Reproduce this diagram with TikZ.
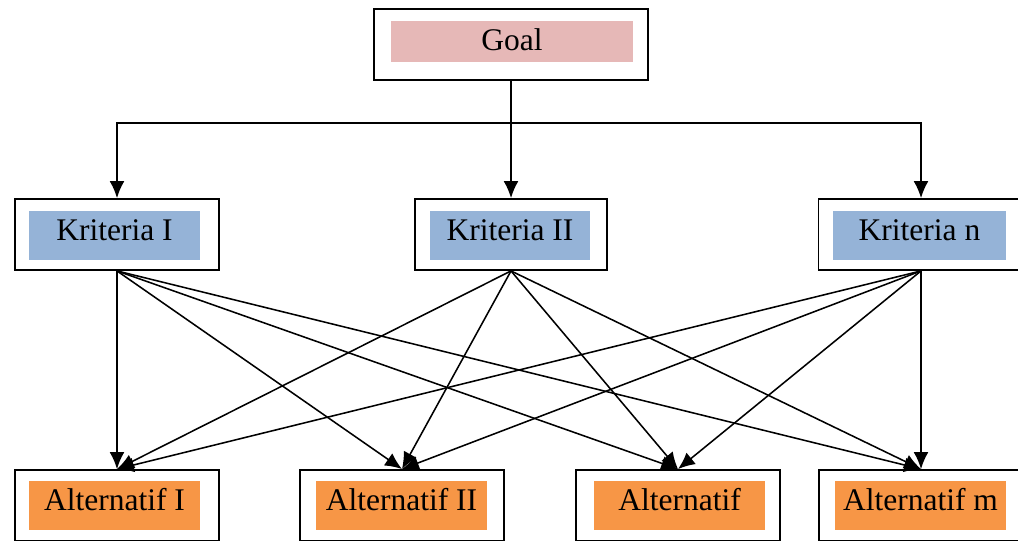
\documentclass[tikz,border=0pt]{standalone}
\usepackage{fontspec}
\setmainfont{Liberation Serif}
\usetikzlibrary{arrows.meta}
\definecolor{goalpink}{HTML}{E6B8B7}
\definecolor{kritblue}{HTML}{95B3D7}
\definecolor{altorange}{HTML}{F79646}

\begin{document}
\begin{tikzpicture}[x=0.025cm,y=-0.025cm,>={Latex[length=12pt,width=10.5pt]},
  frame/.style={draw,line width=1.3pt,minimum height=1.775cm,minimum width=5.1cm,inner sep=0pt},
  label/.style={inner sep=0pt,font=\fontsize{22.4}{26}\selectfont,text height=15pt,text depth=8pt},
  goalfill/.style={label,fill=goalpink,minimum width=6.025cm,minimum height=1.025cm,text depth=2pt},
  kritfill/.style={label,fill=kritblue,minimum width=4.275cm,minimum height=1.225cm},
  altfill/.style={label,fill=altorange,minimum width=4.275cm,minimum height=1.225cm},
  link/.style={->,line width=1.1pt}]
  \useasboundingbox (0,0) rectangle (1018,540);

  % goal
  \node[frame,minimum width=6.85cm] (goal) at (511,44.5) {};
  \node[goalfill] (goal-in) at (512,41.5) {Goal};

  % kriteria
  \node[frame] (k1) at (117,234.5) {};
  \node[kritfill] (k1-in) at (114.5,235.5) {Kriteria I};
  \node[frame,minimum width=4.8cm] (k2) at (511,234.5) {};
  \node[kritfill,minimum width=4cm] (k2-in) at (510,235.5) {Kriteria II};
  \node[frame,minimum width=5.125cm] (k3) at (921,234.5) {};
  \node[kritfill,minimum width=4.325cm] (k3-in) at (919.5,235.5) {Kriteria n};

  % alternatif
  \node[frame] (a1) at (117,505.5) {};
  \node[altfill] (a1-in) at (114.5,505.5) {Alternatif I};
  \node[frame] (a2) at (402,505.5) {};
  \node[altfill] (a2-in) at (401.5,505.5) {Alternatif II};
  \node[frame] (a3) at (678,505.5) {};
  \node[altfill] (a3-in) at (679.5,505.5) {Alternatif};
  \node[frame] (a4) at (921,505.5) {};
  \node[altfill] (a4-in) at (920.5,505.5) {Alternatif m};

  % goal to kriteria
  \coordinate (split) at (511,123);
  \draw[line width=1.1pt] (goal.south) -- (split);
  \draw[link] (split) -| (k1.north);
  \draw[link] (split) -- (k2.north);
  \draw[link] (split) -| (k3.north);

  % kriteria to alternatif
  \foreach \k in {k1,k2,k3}
    \foreach \a in {a1,a2,a3,a4}
      \draw[link] (\k.south) -- (\a.north);
\end{tikzpicture}
\end{document}
